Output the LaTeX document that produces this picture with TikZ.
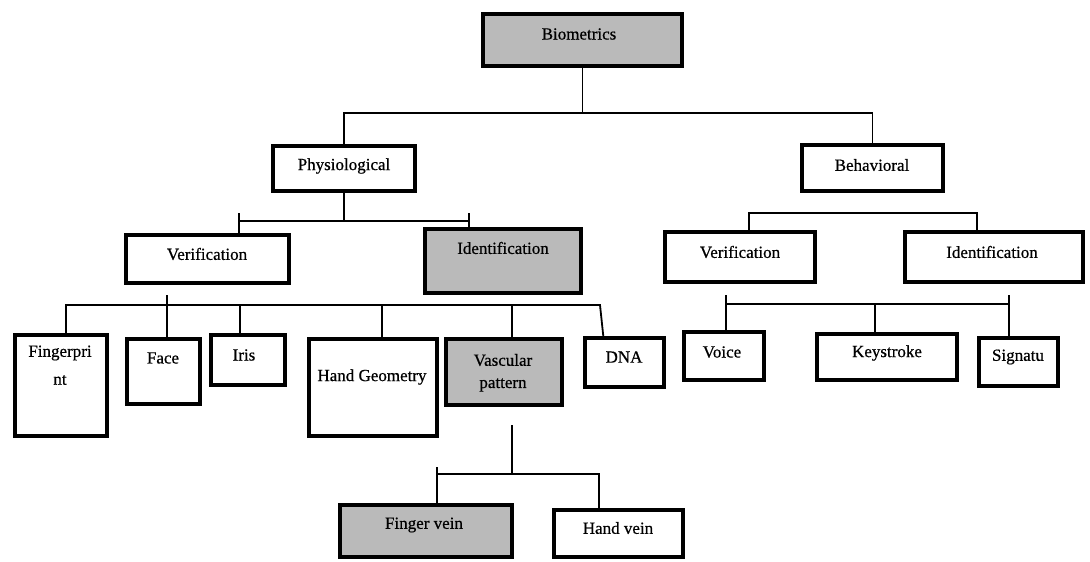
\documentclass[tikz,border=0pt]{standalone}
\usepackage{fontspec}
\setmainfont{Liberation Serif}
\newfontfamily\tnrfont[FakeBold=0.6]{Liberation Serif}
\definecolor{boxgray}{RGB}{186,186,186}
\begin{document}
\begin{tikzpicture}[x=1pt,y=-1pt,
  box/.style={draw=black, line width=4.5pt, rectangle, inner sep=0pt, outer sep=0pt, fill=white},
  graybox/.style={box, fill=boxgray},
  lbl/.style={inner sep=0pt, font=\tnrfont\fontsize{17}{19}\selectfont, text=black},
  conn/.style={draw=black, line width=1.8pt}]
\useasboundingbox (0,0) rectangle (1090,562);

% boxes
\node[graybox, minimum width=199pt, minimum height=52pt] (bio) at (582.5,40) {};
\node[box, minimum width=142pt, minimum height=45pt] (phys) at (344,168.5) {};
\node[box, minimum width=141pt, minimum height=46pt] (behav) at (872.5,168) {};
\node[box, minimum width=163pt, minimum height=48pt] (pver) at (207.5,259) {};
\node[graybox, minimum width=156pt, minimum height=64pt] (pid) at (503,261) {};
\node[box, minimum width=150pt, minimum height=50pt] (bver) at (740,257) {};
\node[box, minimum width=178pt, minimum height=50pt] (bid) at (994,257) {};
\node[box, minimum width=92pt, minimum height=101pt] (fp) at (61,385.5) {};
\node[box, minimum width=73pt, minimum height=65pt] (face) at (163.5,371.5) {};
\node[box, minimum width=74pt, minimum height=50pt] (iris) at (248,360) {};
\node[box, minimum width=128pt, minimum height=97pt] (hgeo) at (373,387.5) {};
\node[graybox, minimum width=116pt, minimum height=66pt] (vasc) at (504,372) {};
\node[box, minimum width=79pt, minimum height=49pt] (dna) at (624.5,362.5) {};
\node[box, minimum width=80pt, minimum height=48pt] (voice) at (724,356) {};
\node[box, minimum width=140pt, minimum height=46pt] (keys) at (887,357) {};
\node[box, minimum width=79pt, minimum height=48pt] (sig) at (1018.5,362) {};
\node[graybox, minimum width=172pt, minimum height=52pt] (fvein) at (426,531) {};
\node[box, minimum width=129pt, minimum height=47pt] (hvein) at (618.5,533.5) {};

% labels
\node[lbl] (bio-t) at (579,34) {Biometrics};
\node[lbl] (phys-t) at (344,166) {Physiological};
\node[lbl] (behav-t) at (872,165) {Behavioral};
\node[lbl] (pver-t) at (207,254) {Verification};
\node[lbl] (pid-t) at (503,248) {Identification};
\node[lbl] (bver-t) at (740,252) {Verification};
\node[lbl] (bid-t) at (992,252) {Identification};
\node[lbl] (fp-t1) at (60,353) {Fingerpri};
\node[lbl] (fp-t2) at (60,380) {nt};
\node[lbl] (face-t) at (163,358) {Face};
\node[lbl] (iris-t) at (244,355) {Iris};
\node[lbl] (hgeo-t) at (372,377) {Hand Geometry};
\node[lbl] (vasc-t1) at (503,360) {Vascular};
\node[lbl] (vasc-t2) at (503,385) {pattern};
\node[lbl] (dna-t) at (624,357) {DNA};
\node[lbl] (voice-t) at (722,352) {Voice};
\node[lbl] (keys-t) at (887,353) {Keystroke};
\node[lbl] (sig-t) at (1018,357) {Signatu};
\node[lbl] (fvein-t) at (424,525) {Finger vein};
\node[lbl] (hvein-t) at (618,528) {Hand vein};

% junction coordinates
\coordinate (j1) at (582.5,113);
\coordinate (j2) at (344,221);
\coordinate (j2l) at (239,221);
\coordinate (j2r) at (469,221);
\coordinate (j3l) at (749,213);
\coordinate (j3r) at (977,213);
\coordinate (j4) at (167,305);
\coordinate (j4l) at (66,305);
\coordinate (j4r) at (600,305);
\coordinate (j5) at (512,474);
\coordinate (j5s) at (512,425);
\coordinate (j5l) at (437,474);
\coordinate (j5r) at (599,474);
\coordinate (j6l) at (726,304);
\coordinate (j6r) at (1009,304);

% Biometrics -> Physiological / Behavioral
\draw[conn] (bio.south) -- (j1);
\draw[conn] (phys.north) -- (phys.north |- j1) -- (behav.north |- j1) -- (behav.north);

% Physiological -> Verification / Identification
\draw[conn] (phys.south) -- (j2);
\draw[conn] ([yshift=8pt]j2l) -- (j2l |- pver.north);
\draw[conn] ([yshift=8pt]j2r) -- (j2r |- pid.north);
\draw[conn] (j2l) -- (j2r);

% Behavioral -> Verification / Identification
\draw[conn] (j3l |- bver.north) -- (j3l) -- (j3r) -- (j3r |- bid.north);

% Physiological verification -> traits
\draw[conn] ([yshift=10pt]j4) -- (j4 |- face.north);
\draw[conn] (j4l |- fp.north) -- (j4l) -- (j4r) -- ([xshift=-21pt]dna.north);
\draw[conn] (240,305) -- (240,0 |- iris.north);
\draw[conn] (382,305) -- (382,0 |- hgeo.north);
\draw[conn] (512,305) -- (512,0 |- vasc.north);

% Vascular pattern -> veins
\draw[conn] (j5s) -- (j5);
\draw[conn] ([yshift=7pt]j5l) -- (j5l |- fvein.north);
\draw[conn] (j5l) -- (j5r) -- (j5r |- hvein.north);

% Behavioral verification -> traits
\draw[conn] ([yshift=9pt]j6l) -- (j6l |- voice.north);
\draw[conn] ([yshift=9pt]j6r) -- (j6r |- sig.north);
\draw[conn] (j6l) -- (j6r);
\draw[conn] (875,304) -- (875,0 |- keys.north);
\end{tikzpicture}
\end{document}
